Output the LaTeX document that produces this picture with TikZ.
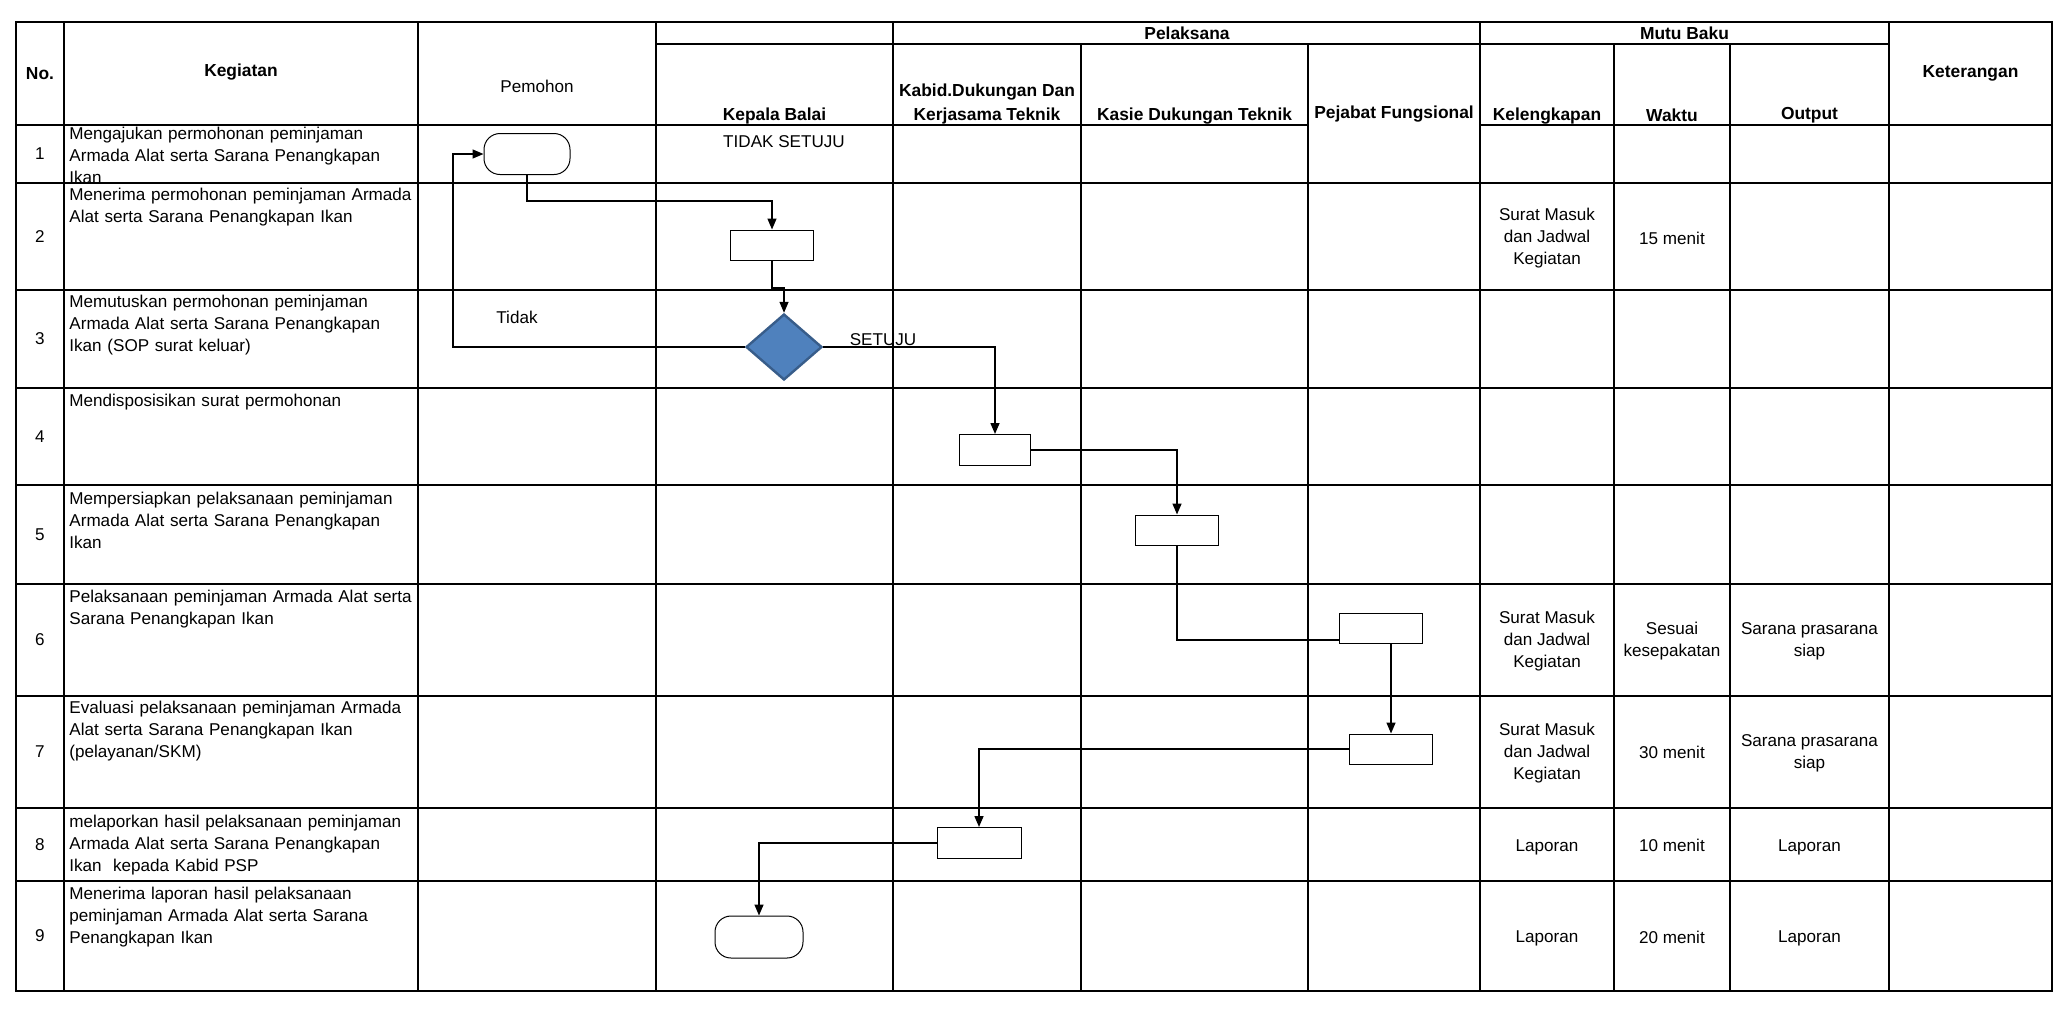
\documentclass[tikz,border=0pt]{standalone}
\usepackage{fontspec}
\setmainfont{Liberation Sans}
\usetikzlibrary{shapes.geometric,arrows.meta}

\definecolor{decfill}{RGB}{79,129,189}
\definecolor{decline}{RGB}{56,93,138}

\tikzset{
  tabline/.style={line width=1pt},
  txt/.style={inner sep=0pt, align=center, font=\fontsize{8.55}{11}\selectfont},
  hdr/.style={inner sep=0pt, align=center, font=\fontsize{8.7}{12}\selectfont\bfseries},
  act/.style={inner sep=0pt, anchor=base west, text width=180pt, align=left, font=\fontsize{8.55}{11}\selectfont},
  proc/.style={draw, line width=0.5pt, fill=white, minimum width=41.5pt, minimum height=15pt, inner sep=0pt},
  term/.style={draw, line width=0.5pt, fill=white, rounded corners=8pt, minimum width=43pt, minimum height=20.5pt, inner sep=0pt},
  dec/.style={diamond, draw=decline, fill=decfill, line width=1.2pt, minimum width=38pt, minimum height=33pt, inner sep=0pt},
  flow/.style={line width=0.7pt, -{Triangle[length=5.5pt,width=4.5pt]}},
  link/.style={line width=0.7pt}
}

\begin{document}
\begin{tikzpicture}[x=0.5pt,y=-0.5pt]
\useasboundingbox (0,0) rectangle (2070,1008);

\draw[tabline] (16,22) rectangle (2052,991);
\foreach \x in {64,418,656,893,1480,1889}
   \draw[tabline] (\x,22) -- (\x,991);
\foreach \x in {1081,1308,1614,1730}
   \draw[tabline] (\x,44) -- (\x,991);
\draw[tabline] (656,44) -- (1889,44);
\draw[tabline] (16,125) -- (1308,125) (1480,125) -- (2052,125);
\foreach \y in {183,290,388,485,584,696,808,881}
   \draw[tabline] (16,\y) -- (2052,\y);

% header
\node[hdr] (hno) at (40,73.5) {No.};
\node[hdr] (hkeg) at (241,72) {Kegiatan};
\node[txt] (hpemohon) at (537,86) {Pemohon};
\node[hdr] (hpel) at (1187,33) {Pelaksana};
\node[hdr] (hmutu) at (1684.5,33) {Mutu Baku};
\node[hdr] (hkepala) at (774.5,116) {Kepala Balai};
\node[hdr] (hkabid) at (987,104) {Kabid.Dukungan Dan\\Kerjasama Teknik};
\node[hdr] (hkasie) at (1194.5,116) {Kasie Dukungan Teknik};
\node[hdr] (hpejabat) at (1394,114) {Pejabat Fungsional};
\node[hdr] (hkel) at (1547,116) {Kelengkapan};
\node[hdr] (hwaktu) at (1672,115) {Waktu};
\node[hdr] (hout) at (1809.5,115) {Output};
\node[hdr] (hket) at (1970.5,73) {Keterangan};

\foreach \n/\y in {1/154,2/236.5,3/339,4/436.5,5/534.5,6/640,7/752,8/844.5,9/936}
   \node[txt] (no\n) at (40,\y) {\n};

% kegiatan
\node[act] (act1) at (69,139) {Mengajukan permohonan peminjaman\\Armada Alat serta Sarana Penangkapan\\Ikan};
\node[act] (act2) at (69,200) {Menerima permohonan peminjaman Armada\\Alat serta Sarana Penangkapan Ikan};
\node[act] (act3) at (69,307) {Memutuskan permohonan peminjaman\\Armada Alat serta Sarana Penangkapan\\Ikan (SOP surat keluar)};
\node[act] (act4) at (69,406) {Mendisposisikan surat permohonan};
\node[act] (act5) at (69,504) {Mempersiapkan pelaksanaan peminjaman\\Armada Alat serta Sarana Penangkapan\\Ikan};
\node[act] (act6) at (69,602) {Pelaksanaan peminjaman Armada Alat serta\\Sarana Penangkapan Ikan};
\node[act] (act7) at (69,713) {Evaluasi pelaksanaan peminjaman Armada\\Alat serta Sarana Penangkapan Ikan\\(pelayanan/SKM)};
\node[act] (act8) at (69,827) {melaporkan hasil pelaksanaan peminjaman\\Armada Alat serta Sarana Penangkapan\\Ikan\ \ kepada Kabid PSP};
\node[act] (act9) at (69,899) {Menerima laporan hasil pelaksanaan\\peminjaman Armada Alat serta Sarana\\Penangkapan Ikan};

% mutu baku
\node[txt] (kel2) at (1547,238) {Surat Masuk\\dan Jadwal\\Kegiatan};
\node[txt] (wkt2) at (1672,238) {15 menit};
\node[txt] (kel6) at (1547,641) {Surat Masuk\\dan Jadwal\\Kegiatan};
\node[txt] (wkt6) at (1672,641.5) {Sesuai\\kesepakatan};
\node[txt] (out6) at (1809.5,641.5) {Sarana prasarana\\siap};
\node[txt] (kel7) at (1547,753) {Surat Masuk\\dan Jadwal\\Kegiatan};
\node[txt] (wkt7) at (1672,752) {30 menit};
\node[txt] (out7) at (1809.5,753.5) {Sarana prasarana\\siap};
\node[txt] (kel8) at (1547,847) {Laporan};
\node[txt] (wkt8) at (1672,845) {10 menit};
\node[txt] (out8) at (1809.5,847) {Laporan};
\node[txt] (kel9) at (1547,938) {Laporan};
\node[txt] (wkt9) at (1672,937) {20 menit};
\node[txt] (out9) at (1809.5,938) {Laporan};

% alur
\node[term] (start) at (527,154) {};
\node[proc] (recv) at (772,245) {};
\node[dec] (decide) at (784,347) {};
\node[proc, minimum width=35.5pt, minimum height=15.5pt] (dispo) at (995,450) {};
\node[proc] (prep) at (1177,530) {};
\node[proc] (exec) at (1381,628) {};
\node[proc] (eval) at (1391,749) {};
\node[proc, minimum width=42pt, minimum height=15.5pt] (report) at (979,843) {};
\node[term, minimum width=44pt, minimum height=21pt] (finish) at (759,937) {};

\node[txt] (lbltolak) at (784,142) {TIDAK SETUJU};
\node[txt] (lbltidak) at (517,317) {Tidak};
\node[txt] (lblsetuju) at (883,340) {SETUJU};

\coordinate (j1) at (772,201);
\coordinate (j2) at (772,288);
\coordinate (j3) at (453,154);

\draw[flow] (start.south) |- (j1) -- (recv.north);
\draw[flow] (recv.south) -- (j2) -| (decide.north);
\draw[flow] (decide.west) -| (j3) -- (start.west);
\draw[flow] (decide.east) -| (dispo.north);
\draw[flow] (dispo.east) -| (prep.north);
\draw[link] (prep.south) |- ([yshift=-6pt]exec.west);
\draw[flow] (exec.south -| eval.north) -- (eval.north);
\draw[flow] (eval.west) -| (report.north);
\draw[flow] (report.west) -| (finish.north);

\end{tikzpicture}
\end{document}
